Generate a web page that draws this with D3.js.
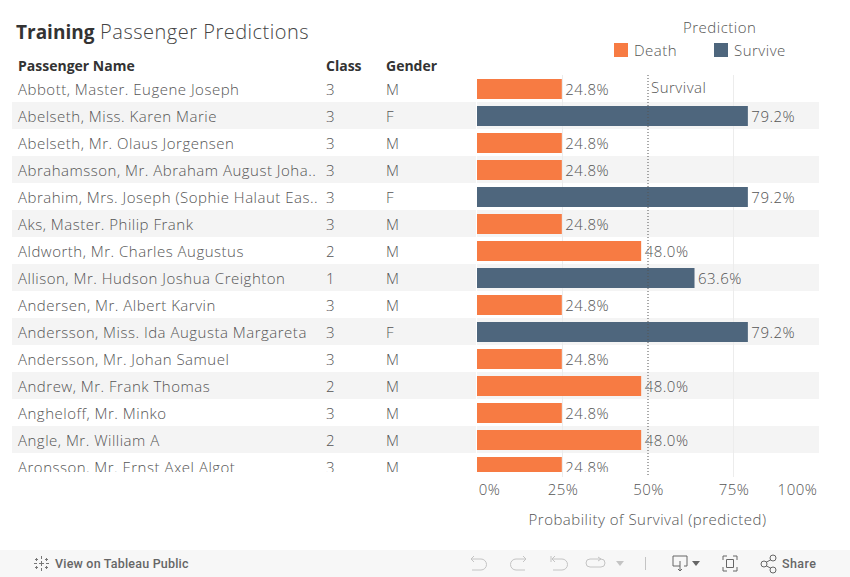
<!DOCTYPE html>
<html>
<head>
<meta charset="utf-8">
<script src="https://cdn.jsdelivr.net/npm/d3@7"></script>
<style>
html, body { margin: 0; padding: 0; background: #fff; overflow: hidden; }
text { font-family: "Open Sans", sans-serif; fill: #555; }
.body-text { font-size: 15px; font-weight: 300; letter-spacing: 0.5px; }
</style>
</head>
<body>
<div id="chart"></div>
<script>
const names = [
  "Abbott, Master. Eugene Joseph",
  "Abelseth, Miss. Karen Marie",
  "Abelseth, Mr. Olaus Jorgensen",
  "Abrahamsson, Mr. Abraham August Joha..",
  "Abrahim, Mrs. Joseph (Sophie Halaut Eas..",
  "Aks, Master. Philip Frank",
  "Aldworth, Mr. Charles Augustus",
  "Allison, Mr. Hudson Joshua Creighton",
  "Andersen, Mr. Albert Karvin",
  "Andersson, Miss. Ida Augusta Margareta",
  "Andersson, Mr. Johan Samuel",
  "Andrew, Mr. Frank Thomas",
  "Angheloff, Mr. Minko",
  "Angle, Mr. William A",
  "Aronsson, Mr. Ernst Axel Algot"
]
const classes = [3,3,3,3,3,3,2,1,3,3,3,2,3,2,3]
const genders = ["M","F","M","M","F","M","M","M","M","F","M","M","M","M","M"]
const probs = [24.8,79.2,24.8,24.8,79.2,24.8,48.0,63.6,24.8,79.2,24.8,48.0,24.8,48.0,24.8]
const rowPred = ["Death","Survive","Death","Death","Survive","Death","Death","Survive","Death","Survive","Death","Death","Death","Death","Death"]
const ticks = [0,25,50,75,100]
const threshold = 50
const predictions = ["Death","Survive"]

const colors = d3.scaleOrdinal().domain(predictions).range(["#f77b43","#4e667d"])

const width = 850, height = 577
const topY = 75, rowH = 27, plotBottom = 472

const svg = d3.select("#chart").append("svg")
    .attr("width", width)
    .attr("height", height)
    .style("display", "block")

svg.append("defs").append("clipPath").attr("id", "rows")
    .append("rect").attr("x", 0).attr("y", topY).attr("width", width).attr("height", plotBottom - topY)

const x = d3.scaleLinear().domain([0,100]).range([477,819])
const y = d3.scaleBand().domain(d3.range(names.length))
    .range([topY, topY + rowH * names.length])

// title
const title = svg.append("text").attr("x", 16).attr("y", 39)
title.append("tspan").text("Training").style("font-size", "19px").style("font-weight", 700).style("fill", "#333")
title.append("tspan").text(" Passenger Predictions").style("font-size", "20px").style("letter-spacing", "0.5px").style("font-weight", 300).style("fill", "#444")

// column headers
const headers = [["Passenger Name",18],["Class",326],["Gender",386]]
svg.selectAll(".hdr").data(headers).enter().append("text")
    .attr("class", "hdr")
    .attr("x", d => d[1]).attr("y", 71)
    .style("font-size", "14px").style("font-weight", 700).style("fill", "#333")
    .text(d => d[0])

// legend
svg.append("text").attr("class", "body-text").attr("x", 683).attr("y", 33).text("Prediction")
const legend = svg.selectAll(".leg").data(predictions).enter().append("g")
    .attr("class", "leg")
    .attr("transform", (d,i) => "translate(" + [614,714][i] + ",43)")
legend.append("rect").attr("width", 14).attr("height", 14).attr("fill", d => colors(d))
legend.append("text").attr("class", "body-text").attr("x", 20).attr("y", 13).text(d => d)

// zebra rows
const plot = svg.append("g").attr("clip-path", "url(#rows)")
plot.selectAll(".band").data(d3.range(names.length).filter(i => i % 2 == 1)).enter().append("rect")
    .attr("class", "band")
    .attr("x", 12).attr("width", 807)
    .attr("y", d => y(d)).attr("height", y.bandwidth())
    .attr("fill", "#f4f4f4")

// gridlines
svg.selectAll(".grid").data(ticks.filter(t => t == 25 || t == 75)).enter().append("line")
    .attr("class", "grid")
    .attr("x1", d => x(d)).attr("x2", d => x(d))
    .attr("y1", topY).attr("y2", 477)
    .attr("stroke", "#ececec")

svg.append("line")
    .attr("x1", x(0) - 0.5).attr("x2", x(0) - 0.5)
    .attr("y1", topY).attr("y2", 477)
    .attr("stroke", "#fff")

// bars
const plot2 = svg.append("g").attr("clip-path", "url(#rows)")
plot2.selectAll(".bar").data(probs).enter().append("rect")
    .attr("class", "bar")
    .attr("x", x(0))
    .attr("y", (d,i) => y(i) + 4)
    .attr("width", d => x(d) - x(0))
    .attr("height", 20)
    .attr("fill", (d,i) => colors(rowPred[i]))

// threshold line
svg.append("line")
    .attr("x1", x(threshold)).attr("x2", x(threshold))
    .attr("y1", topY).attr("y2", 476)
    .attr("stroke", "#555")
    .attr("stroke-dasharray", "1,2")

// text cols
const rowText = (arr, xp) => plot2.selectAll(null).data(arr).enter().append("text")
    .attr("class", "body-text")
    .attr("x", xp)
    .attr("y", (d,i) => y(i) + 20)
    .text(d => d)

rowText(names, 18)
rowText(classes, 326)
rowText(genders, 386)

plot2.selectAll(".val").data(probs).enter().append("text")
    .attr("class", "val body-text")
    .attr("x", d => x(d) + 3.5)
    .attr("y", (d,i) => y(i) + 20)
    .text(d => d.toFixed(1) + "%")

svg.append("text").attr("class", "body-text").attr("x", 651).attr("y", 93).text("Survival")

// axis
const xAxis = d3.axisBottom(x).tickValues(ticks).tickFormat(d => d + "%").tickSize(0)
const axisG = svg.append("g").attr("transform", "translate(0,481)").call(xAxis)
axisG.select(".domain").remove()
axisG.selectAll("text")
    .attr("class", "body-text")
    .attr("y", 0).attr("dy", "0.95em")
    .attr("x", d => d == 0 ? 12 : d == 100 ? -22 : 0)

svg.append("text").attr("class", "body-text").attr("x", 647.5).attr("y", 525).attr("text-anchor", "middle")
    .text("Probability of Survival (predicted)")

// toolbar
svg.append("rect").attr("x", 0).attr("y", 550).attr("width", width).attr("height", 27).attr("fill", "#f7f7f7")
svg.append("text").attr("x", 55).attr("y", 568)
    .style("font-family", "Roboto").style("font-size", "12.5px").style("font-weight", 500).style("fill", "#666")
    .style("letter-spacing", "0.2px")
    .text("View on Tableau Public")
svg.append("text").attr("x", 782).attr("y", 568)
    .style("font-family", "Roboto").style("font-size", "12.5px").style("font-weight", 500).style("fill", "#666")
    .style("letter-spacing", "0.4px")
    .text("Share")

const icon = (d, col) => svg.append("path").attr("d", d).attr("fill", "none").attr("stroke", col).attr("stroke-width", 1)
// tableau mark
icon("M41.5 556v3M41.5 561v5M41.5 568v3M34 563.5h3M39 563.5h5M46 563.5h3M36.5 558v3M35 559.5h3M46.5 558v3M45 559.5h3M36.5 566v3M35 567.5h3M46.5 566v3M45 567.5h3", "#777")
// undo, redo, revert, refresh
icon("M471 559h10a5 5 0 0 1 0 11h-9M474 556l-3 3 3 3", "#c4c4c4")
icon("M526 559h-10a5 5 0 0 0 0 11h9M523 556l3 3-3 3", "#c4c4c4")
icon("M552 559h10a5 5 0 0 1 0 11h-9M555 556l-3 3 3 3M551 556v6", "#c4c4c4")
icon("M601 559h-11a4 4 0 0 0 0 8h11a4 4 0 0 0 0-8M598 557l3 2-3 2", "#c4c4c4")
svg.append("path").attr("d", "M616 561h8l-4 5z").attr("fill", "#c4c4c4")
icon("M645.5 557v13", "#c4c4c4")
// download
icon("M680 566h-7v-10h14v10h-3M680 561v10M678 569l2 2 2-2", "#666")
svg.append("path").attr("d", "M692 561h8l-4 5z").attr("fill", "#666")
// fullscreen
icon("M723 560v-4h4M733 556h4v4M737 567v4h-4M727 571h-4v-4M726.5 559.5h7v8h-7z", "#666")
// share
icon("M765 563l7-4M765 565l7 4", "#666")
svg.selectAll(".sh").data([[764,564],[773,558],[773,570]]).enter().append("circle")
    .attr("class", "sh").attr("cx", d => d[0]).attr("cy", d => d[1]).attr("r", 3)
    .attr("fill", "#f7f7f7").attr("stroke", "#666")
</script>
</body>
</html>
